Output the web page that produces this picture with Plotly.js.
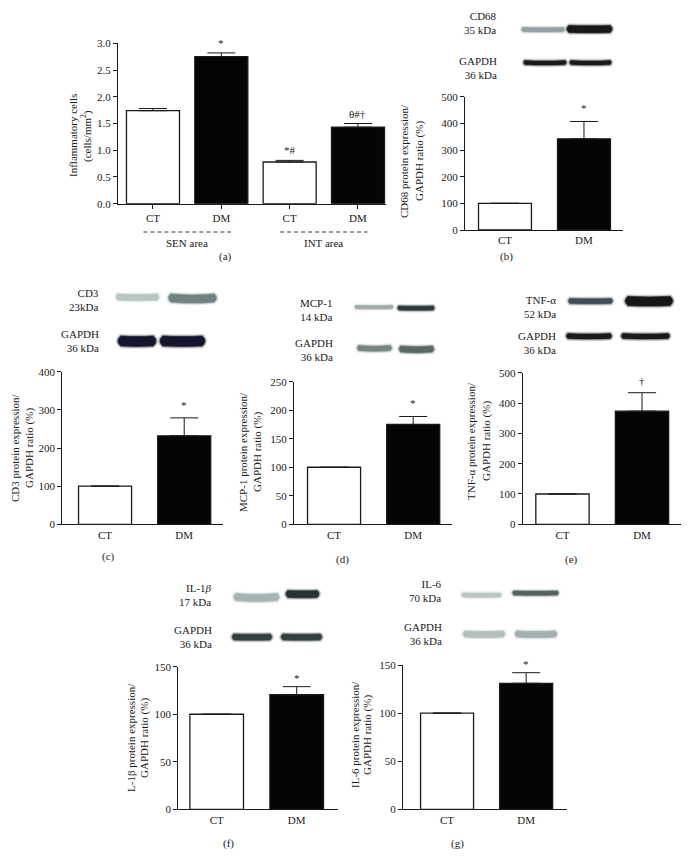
<!DOCTYPE html>
<html>
<head>
<meta charset="utf-8">
<script src="https://cdn.plot.ly/plotly-3.0.1.min.js"></script>
<style>html,body{margin:0;padding:0;background:#fff;}#chart{width:689px;height:866px;}</style>
</head>
<body>
<div id="chart"></div>
<script>
// ---------------- DATA ----------------
const panelA_categories = ['CT', 'DM', 'CT', 'DM'];
const panelA_values = [1.74, 2.75, 0.78, 1.43];
const panelA_errors = [0.04, 0.07, 0.03, 0.07];
const panelA_marks = ['', '*', '*#', 'θ#†'];
const panelA_groups = ['SEN area', 'INT area'];
const panelA_groupStart = [0, 2];

const categories = ['CT', 'DM'];
const cd68_values = [100, 342];
const cd68_errors = [0, 65];
const cd68_marks = ['', '*'];
const cd3_values = [100, 232];
const cd3_errors = [0, 47];
const cd3_marks = ['', '*'];
const mcp1_values = [100, 175];
const mcp1_errors = [0, 14];
const mcp1_marks = ['', '*'];
const tnf_values = [100, 373];
const tnf_errors = [0, 61];
const tnf_marks = ['', '†'];
const il1b_values = [100, 120.5];
const il1b_errors = [0, 8.5];
const il1b_marks = ['', '*'];
const il6_values = [100, 131];
const il6_errors = [0, 11];
const il6_marks = ['', '*'];

const yTitles = {
  a: ['Inflammatory cells', '(cells/mm<sup>2</sup>)'],
  b: ['CD68 protein expression/', 'GAPDH ratio (%)'],
  c: ['CD3 protein expression/', 'GAPDH ratio (%)'],
  d: ['MCP-1 protein expression/', 'GAPDH ratio (%)'],
  e: ['TNF-α protein expression/', 'GAPDH ratio (%)'],
  f: ['L-1β protein expression/', 'GAPDH ratio (%)'],
  g: ['IL-6 protein expression/', 'GAPDH ratio (%)']
};
const blotLabels = {
  b: [['CD68', '35 kDa'], ['GAPDH', '36 kDa']],
  c: [['CD3', '23kDa'], ['GAPDH', '36 kDa']],
  d: [['MCP-1', '14 kDa'], ['GAPDH', '36 kDa']],
  e: [['TNF-α', '52 kDa'], ['GAPDH', '36 kDa']],
  f: [['IL-1<i>β</i>', '17 kDa'], ['GAPDH', '36 kDa']],
  g: [['IL-6', '70 kDa'], ['GAPDH', '36 kDa']]
};

// ---------------- LAYOUT GEOMETRY (pixels) ----------------
const W = 689, H = 866;
const FONT = 'Liberation Serif, "Times New Roman", serif';
const INK = '#1a1a1a';

const panels = [
  {k:'a', n:1, cats:panelA_categories, vals:panelA_values, errs:panelA_errors, marks:panelA_marks,
   l:118, r:386, t:43.3, b:203.7, xr:[-0.512, 3.41], yr:[0,3], dtick:0.5, fmt:'.1f', bw:0.776, xticks:true,
   title:[73, 86, 136], letter:[225, 256], shift:2},
  {k:'b', n:2, cats:categories, vals:cd68_values, errs:cd68_errors, marks:cd68_marks,
   l:465, r:623, t:96.7, b:230, xr:[-0.506, 1.494], yr:[0,500], dtick:100, bw:0.67,
   title:[404, 419, 161], letter:[507, 256], shift:5,
   blot:{lab:498, rows:[23.5, 68]}},
  {k:'c', n:3, cats:categories, vals:cd3_values, errs:cd3_errors, marks:cd3_marks,
   l:62.3, r:223, t:371.7, b:524.3, xr:[-0.54, 1.49], yr:[0,400], dtick:100, bw:0.67,
   title:[15, 29, 448], letter:[109, 556], shift:5,
   blot:{lab:100, rows:[300, 340.5]}},
  {k:'d', n:4, cats:categories, vals:mcp1_values, errs:mcp1_errors, marks:mcp1_marks,
   l:294, r:452, t:381.7, b:524.3, xr:[-0.506, 1.49], yr:[0,250], dtick:50, bw:0.67,
   title:[243, 257, 452], letter:[342, 559], shift:5,
   blot:{lab:334, rows:[309.5, 350]}},
  {k:'e', n:5, cats:categories, vals:tnf_values, errs:tnf_errors, marks:tnf_marks,
   l:522.7, r:681, t:372.7, b:524.3, xr:[-0.5, 1.49], yr:[0,500], dtick:100, bw:0.67,
   title:[471, 486, 441], letter:[571, 559], shift:4,
   blot:{lab:557, rows:[307, 343]}},
  {k:'f', n:6, cats:categories, vals:il1b_values, errs:il1b_errors, marks:il1b_marks,
   l:178.3, r:338.3, t:666.7, b:809.3, xr:[-0.48, 1.52], yr:[0,150], dtick:50, bw:0.67,
   title:[131, 144, 738], letter:[228, 843], shift:1,
   blot:{lab:213, rows:[594.5, 637]}},
  {k:'g', n:7, cats:categories, vals:il6_values, errs:il6_errors, marks:il6_marks,
   l:403, r:567.3, t:665, b:809.3, xr:[-0.557, 1.52], yr:[0,150], dtick:50, bw:0.67,
   title:[355, 367, 735], letter:[457, 843], shift:1,
   blot:{lab:443, rows:[591, 634]}}
];

// decorative western-blot bands (pixel geometry, not data)
const bands = [
  // b: CD68 / GAPDH
  {x0:523, x1:563, y:29.5, h:4, c:'#8c9a9e', s:0.5},
  {x0:569, x1:610, y:29, h:7, c:'#0e0e0e', s:0.5},
  {x0:525, x1:565, y:62.5, h:4, c:'#111111', s:1},
  {x0:571, x1:610, y:62.5, h:4, c:'#111111', s:1},
  // c: CD3 / GAPDH
  {x0:118, x1:157, y:297, h:6, c:'#b4c3c1', s:1},
  {x0:171, x1:214, y:298, h:8, c:'#6a7d7b', s:2},
  {x0:121, x1:153, y:341, h:10, c:'#0c0c24', s:1},
  {x0:163, x1:202, y:341, h:10, c:'#0c0c24', s:1},
  // d: MCP-1 / GAPDH
  {x0:356, x1:392, y:307, h:3, c:'#9aa8a6', s:0.5},
  {x0:399, x1:433, y:308, h:4, c:'#243030', s:0.5},
  {x0:359, x1:390, y:348, h:5, c:'#6f807d', s:1.5},
  {x0:401, x1:432, y:349, h:6, c:'#53625f', s:1.5},
  // e: TNF-a / GAPDH
  {x0:570, x1:611, y:301, h:5, c:'#3a4750', s:0.5},
  {x0:628, x1:670, y:301, h:9, c:'#0d0d0d', s:1},
  {x0:568, x1:610, y:336, h:5, c:'#111111', s:1},
  {x0:623, x1:668, y:336, h:5, c:'#111111', s:1},
  // f: IL-1b / GAPDH
  {x0:236, x1:277, y:597, h:7, c:'#9fb0ae', s:2},
  {x0:288, x1:317, y:594, h:7, c:'#1f2a2a', s:0.5},
  {x0:234, x1:270, y:637, h:6, c:'#2c3939', s:0.5},
  {x0:283, x1:320, y:637, h:6, c:'#2c3939', s:0.5},
  // g: IL-6 / GAPDH
  {x0:463, x1:500, y:595, h:4, c:'#b6c2c0', s:0.5},
  {x0:514, x1:557, y:593, h:4, c:'#4b5957', s:0.5},
  {x0:465, x1:503, y:634, h:6, c:'#b0bdbb', s:1},
  {x0:517, x1:555, y:634, h:6, c:'#9fadab', s:1}
];

// ---------------- BUILD ----------------
const px = x => x / W;
const py = y => 1 - y / H;
const P = (x, y) => px(x).toFixed(5) + ',' + py(y).toFixed(5);

const data = [];
const layout = {
  width: W, height: H, autosize: false,
  margin: {l:0, r:0, t:0, b:0, pad:0},
  paper_bgcolor: '#ffffff', plot_bgcolor: '#ffffff',
  showlegend: false,
  font: {family: FONT, size: 11, color: INK},
  annotations: [], shapes: []
};

function ann(o) { layout.annotations.push(Object.assign({showarrow:false, font:{family:FONT, size:11, color:INK}}, o)); }

panels.forEach(p => {
  const sx = p.n === 1 ? '' : String(p.n);
  const idx = p.cats.map((_, i) => i);
  data.push({
    type: 'bar', x: idx, y: p.vals, width: p.bw,
    xaxis: 'x' + sx, yaxis: 'y' + sx,
    marker: {color: p.cats.map(c => c === 'CT' ? '#ffffff' : '#050505'), line: {color: INK, width: 1.3}},
    error_y: {type: 'data', symmetric: false, array: p.errs, arrayminus: p.errs.map(() => 0),
              color: INK, thickness: 1, width: 14},
    hoverinfo: 'skip'
  });
  layout['xaxis' + sx] = {
    domain: [px(p.l), px(p.r)], anchor: 'y' + sx, range: p.xr,
    tickmode: 'array', tickvals: idx, ticktext: p.cats,
    ticks: p.xticks ? 'outside' : '', ticklen: 4, tickwidth: 1, tickcolor: INK,
    showline: true, linecolor: INK, linewidth: 1, showgrid: false, zeroline: false,
    tickfont: {family: FONT, size: 11, color: INK}, fixedrange: true
  };
  layout['yaxis' + sx] = {
    domain: [py(p.b), py(p.t)], anchor: 'x' + sx, range: p.yr,
    tickmode: 'linear', tick0: 0, dtick: p.dtick, tickformat: p.fmt || '',
    ticks: 'outside', ticklen: 4, tickwidth: 1, tickcolor: INK,
    showline: true, linecolor: INK, linewidth: 1, showgrid: false, zeroline: false,
    tickfont: {family: FONT, size: 11, color: INK}, fixedrange: true
  };
  // significance marks
  p.marks.forEach((m, i) => {
    if (!m) return;
    ann({xref: 'x' + sx, yref: 'y' + sx, x: i, y: p.vals[i] + p.errs[i], text: m,
         xanchor: 'center', yanchor: 'bottom', yshift: p.shift});
  });
  // y-axis title (two lines)
  const tt = yTitles[p.k];
  ann({xref:'paper', yref:'paper', x: px(p.title[0]), y: py(p.title[2]), text: tt[0], textangle: -90, xanchor:'center', yanchor:'middle'});
  ann({xref:'paper', yref:'paper', x: px(p.title[1]), y: py(p.title[2]), text: tt[1], textangle: -90, xanchor:'center', yanchor:'middle'});
  // panel letter
  ann({xref:'paper', yref:'paper', x: px(p.letter[0]), y: py(p.letter[1]), text: '(' + p.k + ')', xanchor:'center', yanchor:'middle'});
  // blot labels (protein name + molecular weight, right aligned)
  if (p.blot) {
    blotLabels[p.k].forEach((pair, r) => {
      ann({xref:'paper', yref:'paper', x: px(p.blot.lab), y: py(p.blot.rows[r]), text: pair.join('<br>'),
           xanchor:'right', yanchor:'middle', align:'right', borderpad:0});
    });
  }
});

// panel (a) group brackets
panelA_groups.forEach((g, gi) => {
  const s = panelA_groupStart[gi];
  layout.shapes.push({type:'line', xref:'x', yref:'paper', x0: s - 0.14, x1: s + 1.14, y0: py(232), y1: py(232),
    line:{color:'#333', width:1, dash:'4px,3px'}});
  ann({xref:'x', yref:'paper', x: s + 0.5, y: py(243), text: g, xanchor:'center', yanchor:'middle'});
});

// blot bands (soft edges via layered shapes)
function bandPath(b, g) {
  const hh = b.h / 2 + g, x0 = b.x0 - g * 0.5, x1 = b.x1 + g * 0.5, xm = (x0 + x1) / 2;
  const top = b.y - hh, bot = b.y + hh, r = Math.max(2, hh * 1.2);
  return 'M' + P(x0, top) + ' Q' + P(xm, top + b.s) + ' ' + P(x1, top) +
         ' Q' + P(x1 + r, b.y) + ' ' + P(x1, bot) +
         ' Q' + P(xm, bot + b.s) + ' ' + P(x0, bot) +
         ' Q' + P(x0 - r, b.y) + ' ' + P(x0, top) + ' Z';
}
bands.forEach(b => {
  [[2.2, 0.14], [1.2, 0.3], [0.4, 0.55], [0, 0.85]].forEach(([g, o]) => {
    layout.shapes.push({type:'path', xref:'paper', yref:'paper', path: bandPath(b, g),
      fillcolor: b.c, opacity: o, line:{width:0}, layer:'above'});
  });
});

Plotly.newPlot('chart', data, layout, {staticPlot: true, displayModeBar: false});
</script>
</body>
</html>
